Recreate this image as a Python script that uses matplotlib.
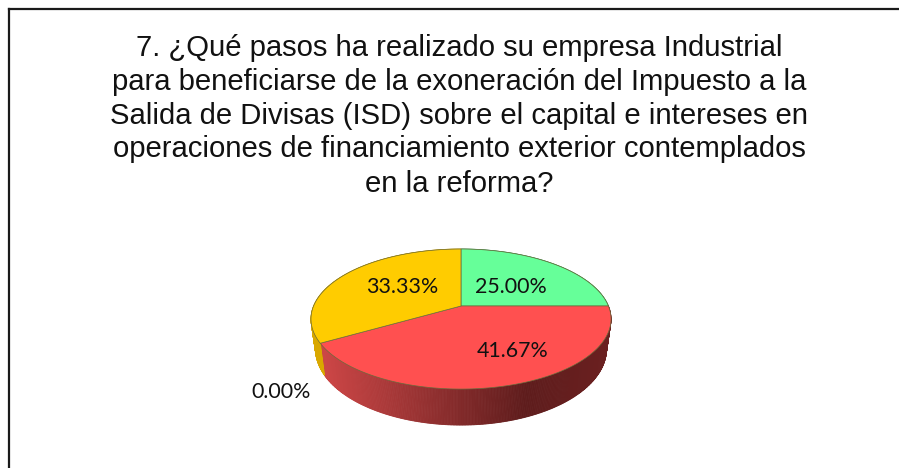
import numpy as np
import matplotlib
matplotlib.use("Agg")
import matplotlib.pyplot as plt
from matplotlib.patches import Polygon
from matplotlib.colors import LinearSegmentedColormap

TITLE = ["7. ¿Qué pasos ha realizado su empresa Industrial",
         "para beneficiarse de la exoneración del Impuesto a la",
         "Salida de Divisas (ISD) sobre el capital e intereses en",
         "operaciones de financiamiento exterior contemplados",
         "en la reforma?"]
title_y = [56, 89.5, 123.5, 157, 192]
values = [25.00, 41.67, 0.00, 33.33]
labels = ["25.00%", "41.67%", "0.00%", "33.33%"]
top_colors = ["#66FF99", "#FF5050", "#E0A800", "#FFCC00"]
side_stops = [[(0, "#3a9a5c"), (1, "#3a9a5c")],
              [(0, "#CC4646"), (0.71, "#5E1C1C"), (1, "#6B2020")],
              [(0, "#C79A00"), (1, "#C79A00")],
              [(0, "#D9A800"), (1, "#C79A00")]]
label_pos = [(511, 287), (512.5, 351), (281, 392), (402.5, 287)]

W, H = 899, 468
CX, CY = 461, 306
A, B, K = 147.4, 67.6, 0.186

def project(frac):
    t = 2 * np.pi * np.asarray(frac)
    u, v = np.sin(t), np.cos(t)
    d = 1 + K * v
    return CX + A * u / d, CY - B * v / d

def lower(x, y):
    return CX + 0.97 * (x - CX), CY + 1.087 * (y - CY) + 28.8

fig = plt.figure(figsize=(W / 100, H / 100), dpi=100, facecolor="white")
ax = fig.add_axes([0, 0, 1, 1])
ax.set_xlim(0, W)
ax.set_ylim(H, 0)
ax.axis("off")

# frame: left and top edges only reach the picture
ax.plot([9, 9], [H + 2, 9], color="#1a1a1a", lw=1.6, clip_on=False, solid_capstyle="projecting")
ax.plot([9, W + 2], [9, 9], color="#1a1a1a", lw=1.6, clip_on=False)

for line, ty in zip(TITLE, title_y):
    ax.text(459.5, ty, line, ha="center", va="baseline", fontsize=21.1,
            family="Liberation Sans", color="#111111")

fracs = np.cumsum([0] + values) / sum(values)

for i in range(len(values)):
    n = max(int((fracs[i + 1] - fracs[i]) * 720), 1)
    f = np.linspace(fracs[i], fracs[i + 1], n + 1)
    x, y = project(f)
    xb, yb = lower(x, y)
    cmap = LinearSegmentedColormap.from_list("s", side_stops[i])
    xmin, xmax = 322, 611
    for j in range(n):
        c = cmap(np.clip(((x[j] + x[j + 1]) / 2 - xmin) / (xmax - xmin), 0, 1))
        ax.add_patch(Polygon([(x[j], y[j]), (x[j + 1], y[j + 1]),
                              (xb[j + 1], yb[j + 1]), (xb[j], yb[j])],
                             closed=True, fc=c, ec=c, lw=0.6, zorder=2))

for i in range(len(values)):
    if values[i] == 0:
        continue
    f = np.linspace(fracs[i], fracs[i + 1], 300)
    x, y = project(f)
    pts = np.column_stack([np.r_[CX, x], np.r_[CY, y]])
    ax.add_patch(Polygon(pts, closed=True, fc=top_colors[i], ec="#6b6b3a", lw=0.5, zorder=3))

for lab, (lx, ly) in zip(labels, label_pos):
    ax.text(lx, ly, lab, ha="center", va="center", fontsize=15.4, family="Lato",
            color="#111111", zorder=5)

fig.savefig("out.png", dpi=100, facecolor="white")
